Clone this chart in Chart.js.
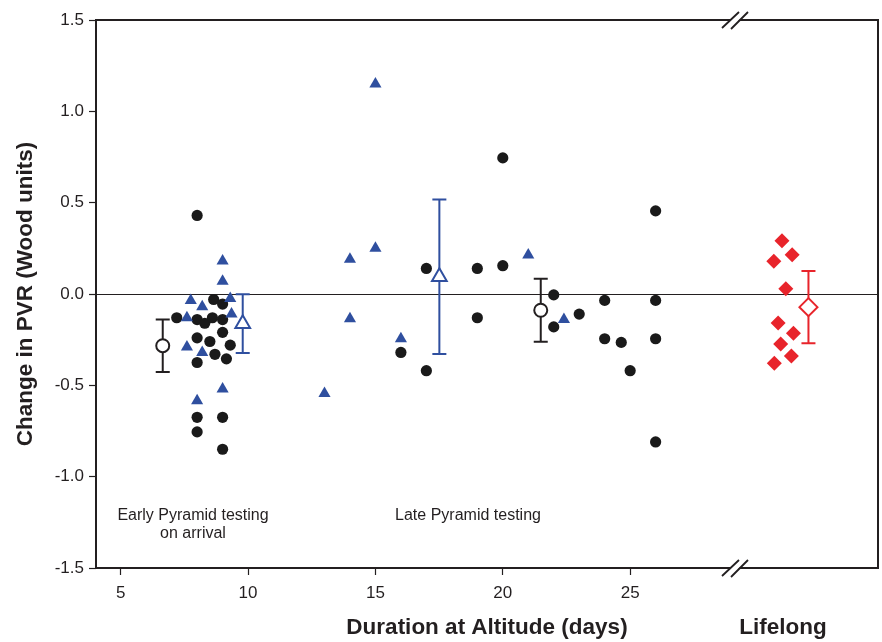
<!DOCTYPE html>
<html>
<head>
<meta charset="utf-8">
<script src="https://cdn.jsdelivr.net/npm/chart.js@4/dist/chart.umd.min.js"></script>
<style>
  html, body { margin: 0; padding: 0; background: #fff; }
  #wrap { width: 882px; height: 642px; }
</style>
</head>
<body>
<div id="wrap"><canvas id="c" width="882" height="642"></canvas></div>
<script>
// ---------- data ----------
// black circles: duration at altitude (days) and change in PVR
const circleDays = [8, 7.2, 8, 8.3, 8.6, 8.65, 9, 9, 9, 8, 8.5, 9.3, 8.7, 9.15, 8, 8, 9, 8, 9,
                    20, 17, 19, 20, 19, 16, 17, 22, 22, 23, 26, 24, 26, 24, 24.65, 26, 25, 26];
const circleValues = [0.43, -0.13, -0.14, -0.16, -0.13, -0.03, -0.055, -0.14, -0.21, -0.24, -0.26, -0.28, -0.33, -0.355, -0.375, -0.675, -0.675, -0.755, -0.85,
                      0.745, 0.14, 0.14, 0.155, -0.13, -0.32, -0.42, -0.005, -0.18, -0.11, 0.455, -0.035, -0.035, -0.245, -0.265, -0.245, -0.42, -0.81];
// blue triangles
const triangleDays = [9, 9, 7.75, 8.2, 9.3, 7.6, 9.35, 7.6, 8.2, 9, 8,
                      15, 15, 14, 21, 14, 16, 13, 22.4];
const triangleValues = [0.18, 0.07, -0.035, -0.07, -0.025, -0.13, -0.11, -0.29, -0.32, -0.52, -0.585,
                        1.15, 0.25, 0.19, 0.213, -0.135, -0.245, -0.545, -0.14];
// red diamonds: lifelong residents (x = jitter position in the "Lifelong" column)
const lifelongJitter = [30.96, 31.36, 30.64, 31.11, 30.81, 31.41, 30.91, 31.33, 30.66];
const lifelongValues = [0.292, 0.215, 0.179, 0.029, -0.159, -0.215, -0.274, -0.339, -0.379];
// group means with error bars
const meanCircleX = [6.65, 21.49];
const meanCircleY = [-0.283, -0.089];
const meanCircleLow = [-0.427, -0.261];
const meanCircleHigh = [-0.139, 0.084];
const meanTriangleX = [9.79, 17.51];
const meanTriangleY = [-0.163, 0.095];
const meanTriangleLow = [-0.323, -0.328];
const meanTriangleHigh = [-0.002, 0.518];
const meanLifelongX = [32.0];
const meanLifelongY = [-0.072];
const meanLifelongLow = [-0.27];
const meanLifelongHigh = [0.126];
// ticks and labels
const xTicks = [5, 10, 15, 20, 25];
const yTicks = [-1.5, -1.0, -0.5, 0.0, 0.5, 1.0, 1.5];
const yTitle = 'Change in PVR (Wood units)';
const xTitle = 'Duration at Altitude (days)';
const lifelongLabel = 'Lifelong';
const earlyNote = ['Early Pyramid testing', 'on arrival'];
const lateNote = 'Late Pyramid testing';

// ---------- styles ----------
const INK = '#231f20';
const BLUE = '#2f4f9f';
const RED = '#e8242b';
const FONT = '"Liberation Sans", Arial, Helvetica, sans-serif';

function pts(xs, ys) { return xs.map((x, i) => ({ x: x, y: ys[i] })); }

const errorBarPlugin = {
  id: 'errorBars',
  beforeDatasetsDraw(chart) {
    const ctx = chart.ctx, xs = chart.scales.x, ys = chart.scales.y, a = chart.chartArea;
    ctx.save();
    // zero line
    ctx.strokeStyle = INK; ctx.lineWidth = 1.2;
    const y0 = Math.round(ys.getPixelForValue(0)) + 0.5;
    ctx.beginPath(); ctx.moveTo(a.left, y0); ctx.lineTo(a.right, y0); ctx.stroke();
    const groups = [
      [meanCircleX, meanCircleLow, meanCircleHigh, INK],
      [meanTriangleX, meanTriangleLow, meanTriangleHigh, BLUE],
      [meanLifelongX, meanLifelongLow, meanLifelongHigh, RED]
    ];
    groups.forEach(([gx, lo, hi, col]) => {
      ctx.strokeStyle = col; ctx.lineWidth = 2;
      gx.forEach((x, i) => {
        const px = xs.getPixelForValue(x);
        const pl = ys.getPixelForValue(lo[i]);
        const ph = ys.getPixelForValue(hi[i]);
        ctx.beginPath();
        ctx.moveTo(px, pl); ctx.lineTo(px, ph);
        ctx.moveTo(px - 7, pl); ctx.lineTo(px + 7, pl);
        ctx.moveTo(px - 7, ph); ctx.lineTo(px + 7, ph);
        ctx.stroke();
      });
    });
    ctx.restore();
  },
  afterDraw(chart) {
    const ctx = chart.ctx, a = chart.chartArea;
    ctx.save();
    // frame
    ctx.strokeStyle = INK; ctx.lineWidth = 2;
    ctx.strokeRect(a.left, a.top, a.right - a.left, a.bottom - a.top);
    // axis breaks
    const bx = 736;
    [a.top, a.bottom].forEach(by => {
      ctx.fillStyle = '#fff';
      ctx.beginPath();
      ctx.moveTo(bx - 14, by + 8); ctx.lineTo(bx + 4, by - 9);
      ctx.lineTo(bx + 12, by - 9); ctx.lineTo(bx - 5, by + 8);
      ctx.closePath(); ctx.fill();
      ctx.strokeStyle = INK; ctx.lineWidth = 1.8;
      ctx.beginPath();
      ctx.moveTo(bx - 14, by + 8); ctx.lineTo(bx + 3, by - 8);
      ctx.moveTo(bx - 5, by + 9); ctx.lineTo(bx + 12, by - 8);
      ctx.stroke();
    });
    // texts
    ctx.fillStyle = INK;
    ctx.textAlign = 'center'; ctx.textBaseline = 'middle';
    ctx.font = '16px ' + FONT;
    ctx.fillText(earlyNote[0], 193, 516);
    ctx.fillText(earlyNote[1], 193, 534);
    ctx.fillText(lateNote, 468, 516);
    ctx.font = 'bold 22.5px ' + FONT;
    ctx.fillText(xTitle, 487, 628);
    ctx.fillText(lifelongLabel, 783, 628);
    ctx.translate(26, 294);
    ctx.rotate(-Math.PI / 2);
    ctx.fillText(yTitle, 0, 0);
    ctx.restore();
  }
};

new Chart(document.getElementById('c'), {
  type: 'scatter',
  data: {
    datasets: [
      { data: pts(triangleDays, triangleValues), pointStyle: 'triangle', pointRadius: 7, backgroundColor: BLUE, borderWidth: 0 },
      { data: pts(circleDays, circleValues), pointStyle: 'circle', pointRadius: 5.6, backgroundColor: '#1a1a1a', borderWidth: 0 },
      { data: pts(lifelongJitter, lifelongValues), pointStyle: 'rectRot', pointRadius: 7.5, backgroundColor: RED, borderWidth: 0 },
      { data: pts(meanCircleX, meanCircleY), pointStyle: 'circle', pointRadius: 6.5, backgroundColor: '#fff', borderColor: INK, borderWidth: 2 },
      { data: pts(meanTriangleX, meanTriangleY), pointStyle: 'triangle', pointRadius: 8.5, backgroundColor: '#fff', borderColor: BLUE, borderWidth: 2 },
      { data: pts(meanLifelongX, meanLifelongY), pointStyle: 'rectRot', pointRadius: 9, backgroundColor: '#fff', borderColor: RED, borderWidth: 2 }
    ]
  },
  options: {
    responsive: false,
    animation: false,
    events: [],
    layout: { autoPadding: false, padding: { top: 20, right: 4, left: 0, bottom: 0 } },
    plugins: { legend: { display: false }, tooltip: { enabled: false } },
    elements: { point: { hoverRadius: 0 } },
    scales: {
      x: {
        type: 'linear', min: 4.03, max: 34.73,
        afterBuildTicks: (axis) => { axis.ticks = xTicks.map(v => ({ value: v })); },
        afterFit: (s) => { s.height = 74; s.paddingLeft = 0; s.paddingRight = 0; },
        border: { display: false },
        grid: { drawOnChartArea: false, drawTicks: true, tickLength: 7, tickColor: INK, tickWidth: 1.2 },
        ticks: { color: INK, font: { family: FONT, size: 17 }, padding: 8, maxRotation: 0, autoSkip: false }
      },
      y: {
        type: 'linear', min: -1.5, max: 1.5,
        afterBuildTicks: (axis) => { axis.ticks = yTicks.map(v => ({ value: v })); },
        afterFit: (s) => { s.width = 96; s.paddingTop = 0; s.paddingBottom = 0; },
        border: { display: false },
        grid: { drawOnChartArea: false, drawTicks: true, tickLength: 7, tickColor: INK, tickWidth: 1.2 },
        ticks: { color: INK, font: { family: FONT, size: 17 }, padding: 5, callback: (v) => Number(v).toFixed(1) }
      }
    }
  },
  plugins: [errorBarPlugin]
});
</script>
</body>
</html>
